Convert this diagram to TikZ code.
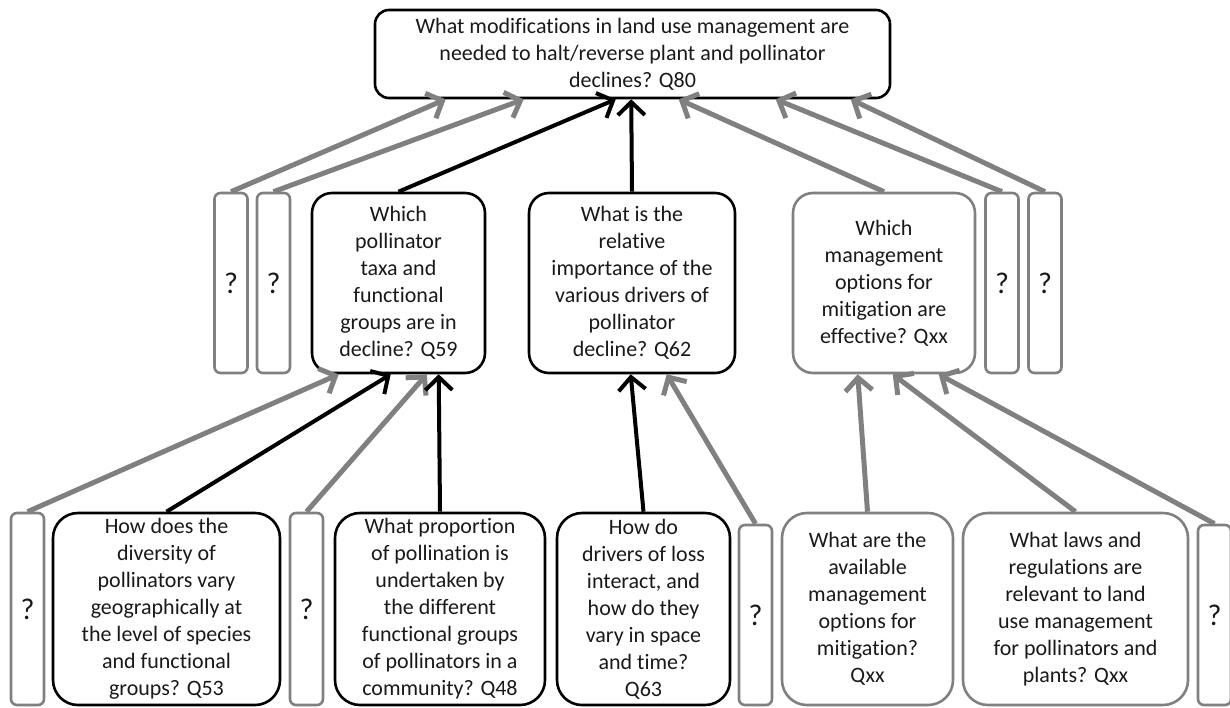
\documentclass[tikz,border=0pt]{standalone}
\usepackage{fontspec}
\setmainfont{Carlito}[Ligatures=NoCommon]
\usetikzlibrary{arrows.meta}
\definecolor{linegray}{RGB}{128,128,128}

\begin{document}
\begin{tikzpicture}[x=1pt, y=-1pt,
    qbox/.style={draw=black, line width=2.6pt, rounded corners=20pt, align=center, inner sep=0pt,
        text=black!90, font=\fontsize{22}{27}\selectfont},
    greybox/.style={qbox, draw=linegray},
    unknown/.style={greybox, rounded corners=6pt, minimum width=33pt, font=\fontsize{30}{30}\selectfont},
    blackarrow/.style={draw=black, line width=4pt, -{Straight Barb[length=13pt, width=27pt]}},
    greyarrow/.style={draw=linegray, line width=5pt, -{Straight Barb[length=13pt, width=27pt]}}]
    \useasboundingbox (0,0) rectangle (1230,707);

    % PREGUNTA PRINCIPAL
    \node[qbox, rounded corners=14pt, minimum width=515pt, minimum height=88pt] (q80) at (632.5,54)
        {What modifications in land use management are\\needed to halt/reverse plant and pollinator\\declines? Q80};

    % FILA DEL MIG
    \node[qbox, minimum width=173pt, minimum height=180pt] (q59) at (398.5,283)
        {Which\\pollinator\\taxa and\\functional\\groups are in\\decline? Q59};
    \node[qbox, minimum width=206pt, minimum height=180pt] (q62) at (632,283)
        {What is the\\relative\\importance of the\\various drivers of\\pollinator\\decline? Q62};
    \node[greybox, minimum width=182pt, minimum height=180pt] (qeff) at (884,283)
        {Which\\management\\options for\\mitigation are\\effective? Qxx};
    \foreach \n/\x in {m1/231, m2/273.5, m3/1002, m4/1045}
        \node[unknown, minimum height=180pt] (\n) at (\x,283) {?};

    % FILA DE BAIX
    \node[qbox, rounded corners=25pt, minimum width=227pt, minimum height=192pt] (q53) at (166.5,609)
        {How does the\\diversity of\\pollinators vary\\geographically at\\the level of species\\and functional\\groups? Q53};
    \node[qbox, rounded corners=25pt, minimum width=210pt, minimum height=192pt] (q48) at (440,609)
        {What proportion\\of pollination is\\undertaken by\\the different\\functional groups\\of pollinators in a\\community? Q48};
    \node[qbox, rounded corners=25pt, minimum width=173pt, minimum height=192pt] (q63) at (643.5,609)
        {How do\\drivers of loss\\interact, and\\how do they\\vary in space\\and time?\\Q63};
    \node[greybox, rounded corners=25pt, minimum width=171pt, minimum height=192pt] (qopt) at (867.5,609)
        {What are the\\available\\management\\options for\\mitigation?\\Qxx};
    \node[greybox, rounded corners=25pt, minimum width=225pt, minimum height=192pt] (qlaw) at (1075.5,609)
        {What laws and\\regulations are\\relevant to land\\use management\\for pollinators and\\plants? Qxx};
    \foreach \n/\x/\y/\h in {b1/27.5/609/192, b2/306.5/609/192, b3/755.5/615/180, b4/1214.5/615/180}
        \node[unknown, minimum height=\h pt] (\n) at (\x,\y) {?};

    % FLETXES CAP A Q80
    \foreach \s/\d/\st in {m1/72/greyarrow, m2/150/greyarrow, q59/242/blackarrow, q62/257.5/blackarrow,
                           qeff/305/greyarrow, m3/402/greyarrow, m4/477/greyarrow}
        \draw[\st] (\s.north) -- ([xshift=\d pt]q80.south west);

    % FLETXES CAP A LA FILA DEL MIG
    \foreach \s/\d/\st in {b1/28/greyarrow, q53/80/blackarrow, b2/116/greyarrow, q48/128/blackarrow}
        \draw[\st] (\s.north) -- ([xshift=\d pt]q59.south west);
    \foreach \s/\d/\st in {q63/103/blackarrow, b3/139/greyarrow}
        \draw[\st] (\s.north) -- ([xshift=\d pt]q62.south west);
    \foreach \s/\d/\st in {qopt/66/greyarrow, qlaw/101/greyarrow, b4/147/greyarrow}
        \draw[\st] (\s.north) -- ([xshift=\d pt]qeff.south west);

\end{tikzpicture}
\end{document}
